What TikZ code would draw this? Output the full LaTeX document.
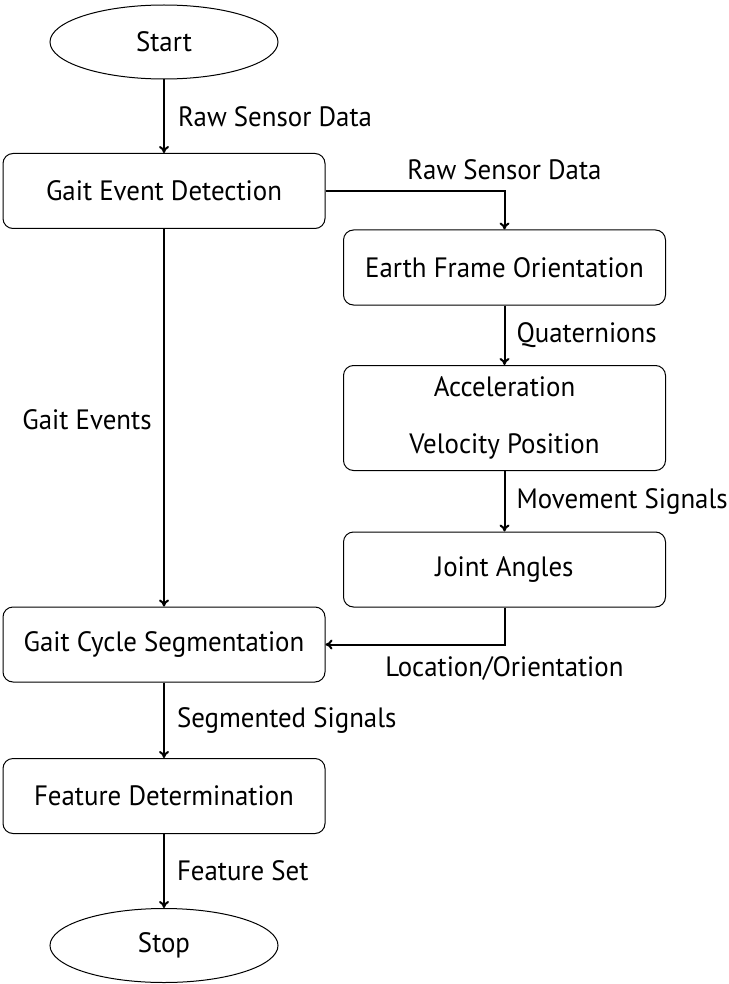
\documentclass[tikz,border=0pt]{standalone}
\usepackage{fontspec}
\setmainfont[FakeStretch=0.96]{PT Sans}
\usetikzlibrary{shapes.geometric,arrows.meta}
\begin{document}
\begin{tikzpicture}[x=1pt,y=-1pt,
  every node/.style={font=\fontsize{28}{33}\selectfont},
  box/.style={draw,rounded corners=10pt,line width=1pt,minimum width=322pt,minimum height=75pt,inner sep=0pt},
  term/.style={draw,ellipse,line width=1pt,minimum width=228pt,minimum height=74pt,inner sep=0pt},
  arr/.style={line width=2pt,-{To[length=7pt,width=10pt]}},
  lbl/.style={inner sep=0pt}]
\useasboundingbox (0,0) rectangle (728,984);
\node[term] (start) at (164,42) {Start};
\node[box] (ged) at (164,191) {Gait Event Detection};
\node[box] (efo) at (504.5,267.5) {Earth Frame Orientation};
\node[box,minimum height=105pt,align=center] (acc) at (504.5,418) {Acceleration\\[24pt]Velocity Position};
\node[box] (ja) at (504.5,569.5) {Joint Angles};
\node[box] (gcs) at (164,644.5) {Gait Cycle Segmentation};
\node[box] (fd) at (164,796) {Feature Determination};
\node[term] (stop) at (164,945.5) {Stop};
\coordinate (c1) at (504.5,191);
\coordinate (c2) at (504.5,644.5);
\draw[arr] (start) -- node[lbl,anchor=west,xshift=13pt]{Raw Sensor Data} (ged);
\draw[arr] (ged.east) -- (c1) -- (efo.north);
\node[lbl] at (504.5,170) {Raw Sensor Data};
\draw[arr] (efo) -- node[lbl,anchor=west,xshift=11pt]{Quaternions} (acc);
\draw[arr] (acc) -- node[lbl,anchor=west,xshift=11pt]{Movement Signals} (ja);
\draw[arr] (ja.south) -- (c2) -- (gcs.east);
\node[lbl] at (504.5,668) {Location/Orientation};
\draw[arr] (ged) -- (gcs);
\node[lbl] at (87,420) {Gait Events};
\draw[arr] (gcs) -- node[lbl,anchor=west,xshift=12pt]{Segmented Signals} (fd);
\draw[arr] (fd) -- node[lbl,anchor=west,xshift=12pt]{Feature Set} (stop);
\end{tikzpicture}
\end{document}
